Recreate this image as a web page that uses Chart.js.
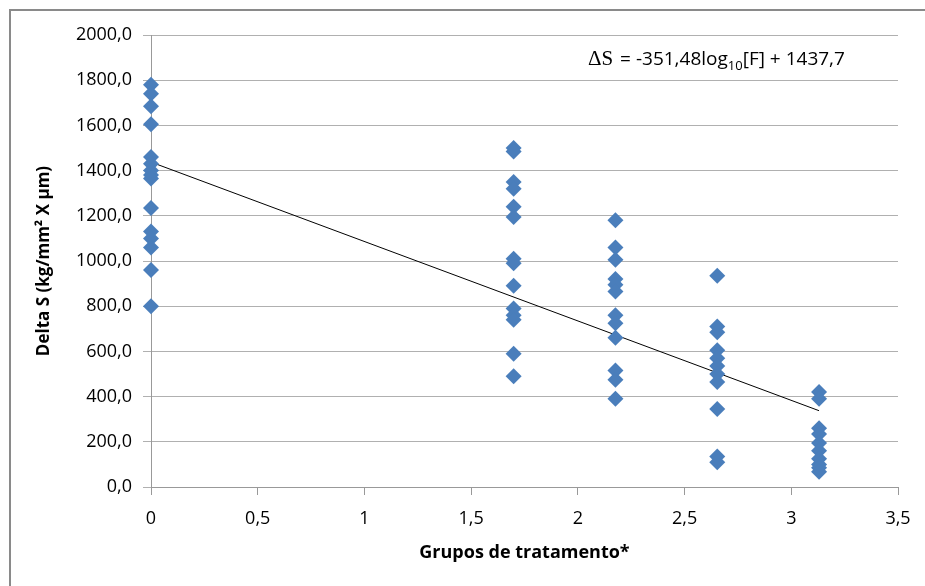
<!DOCTYPE html>
<html>
<head>
<meta charset="utf-8">
<script src="https://cdn.jsdelivr.net/npm/chart.js@4.4.1/dist/chart.umd.min.js"></script>
<style>
  html, body { margin: 0; padding: 0; background: #fff; }
</style>
</head>
<body>
<canvas id="chart" width="925" height="586"></canvas>
<script>
// treatment groups (log10 of dose) and Delta S values
const groupX = [0, 1.699, 2.176, 2.653, 3.13];
const group0 = [1780, 1740, 1685, 1605, 1460, 1430, 1400, 1380, 1365, 1235, 1130, 1100, 1060, 960, 800];
const group1 = [1500, 1485, 1350, 1320, 1240, 1195, 1010, 990, 890, 790, 760, 740, 590, 490];
const group2 = [1180, 1060, 1005, 920, 895, 865, 760, 725, 660, 515, 475, 390];
const group3 = [935, 710, 685, 605, 570, 535, 500, 465, 345, 135, 110];
const group4 = [420, 390, 260, 235, 195, 160, 125, 100, 85, 68];
const groups = [group0, group1, group2, group3, group4];

// linear trendline endpoints (y = -351.48x + 1437.7)
const trendX = [0, 3.13];
const trendY = [1437.7, 337.6];

const yTicks = { min: 0, max: 2000, step: 200 };
const xTicks = { min: 0, max: 3.5, step: 0.5 };

const points = [];
groups.forEach((vals, i) => vals.forEach(v => points.push({ x: groupX[i], y: v })));

const frame = {
    id: 'frame',
    beforeDraw(chart) {
        const ctx = chart.ctx;
        ctx.save();
        ctx.fillStyle = '#fff';
        ctx.fillRect(0, 0, chart.width, chart.height);
        ctx.strokeStyle = '#8a8a8a';
        ctx.lineWidth = 2;
        ctx.strokeRect(10, 10, 1000, 1000);
        ctx.restore();
    }
};

const equation = {
    id: 'equation',
    afterDraw(chart) {
        const ctx = chart.ctx;
        ctx.save();
        ctx.fillStyle = '#000';
        ctx.textBaseline = 'alphabetic';
        let x = 588, y = 65;
        ctx.font = '21px "Liberation Serif"';
        ctx.fillText('\u0394S', x, y);
        x += ctx.measureText('\u0394S').width + 2;
        ctx.font = '19px "Open Sans"';
        const a = ' = -351,48log';
        ctx.fillText(a, x, y);
        x += ctx.measureText(a).width;
        ctx.font = '13px "Open Sans"';
        ctx.fillText('10', x, y + 5);
        x += ctx.measureText('10').width;
        ctx.font = '19px "Open Sans"';
        ctx.fillText('[F] + 1437,7', x, y);
        ctx.restore();
    }
};

const ctx = document.getElementById('chart').getContext('2d');
new Chart(ctx, {
    type: 'scatter',
    data: {
        datasets: [
            {
                label: 'Delta S',
                data: points,
                pointStyle: 'rectRot',
                pointRadius: 8,
                pointHoverRadius: 8,
                backgroundColor: '#4a7ebb',
                borderColor: '#4a7ebb',
                borderWidth: 0,
                clip: false
            },
            {
                label: 'Trend',
                type: 'line',
                data: trendX.map((x, i) => ({ x: x, y: trendY[i] })),
                borderColor: '#000',
                borderWidth: 1,
                pointRadius: 0,
                fill: false
            }
        ]
    },
    options: {
        responsive: false,
        animation: false,
        devicePixelRatio: 1,
        layout: { padding: { left: 10, top: 35, right: 27, bottom: 0 } },
        plugins: { legend: { display: false }, tooltip: { enabled: false } },
        scales: {
            x: {
                type: 'linear',
                min: xTicks.min, max: xTicks.max,
                afterFit(scale) { scale.height = 99; },
                ticks: {
                    stepSize: xTicks.step,
                    color: '#000',
                    padding: 13,
                    font: { family: 'Open Sans', size: 18 },
                    callback: v => String(v).replace('.', ',')
                },
                grid: { drawOnChartArea: false, drawTicks: true, tickLength: 8, color: '#999' },
                border: { color: '#999' },
                title: {
                    display: true,
                    text: 'Grupos de tratamento*',
                    color: '#000',
                    font: { family: 'Open Sans', size: 18, weight: 'bold' },
                    padding: { top: 4, bottom: 22 }
                }
            },
            y: {
                min: yTicks.min, max: yTicks.max,
                afterFit(scale) { scale.width = 141; },
                ticks: {
                    stepSize: yTicks.step,
                    color: '#000',
                    padding: 11,
                    font: { family: 'Open Sans', size: 18 },
                    callback: v => v.toFixed(1).replace('.', ',')
                },
                grid: { color: '#b0b0b0', tickLength: 8 },
                border: { color: '#999' },
                title: {
                    display: true,
                    text: 'Delta S (kg/mm\u00b2 X \u00b5m)',
                    color: '#000',
                    font: { family: 'Open Sans', size: 17, weight: 'bold' },
                    padding: { top: 24, bottom: 4 }
                }
            }
        }
    },
    plugins: [frame, equation]
});
</script>
</body>
</html>
